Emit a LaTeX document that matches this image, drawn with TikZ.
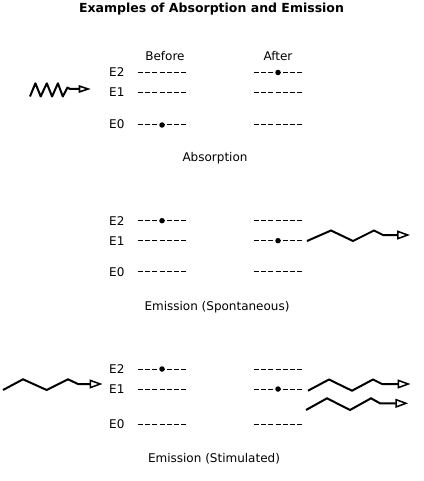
\documentclass[tikz,border=0pt]{standalone}
\usepackage{fontspec}
\setmainfont{DejaVu Sans}
\usetikzlibrary{arrows.meta}
\begin{document}
\begin{tikzpicture}[x=1pt,y=-1pt,
  lbl/.style={anchor=base, inner sep=0pt, font=\fontsize{12}{14}\selectfont},
  elbl/.style={lbl, anchor=base west},
  level/.style={line width=1pt, dash pattern=on 5pt off 2.2pt},
  electron/.style={circle, fill=black, inner sep=0pt, minimum size=5.5pt},
  photon/.style={line width=2pt, line join=miter, -{Triangle[open, length=13pt, width=9pt, line width=1.5pt]}},
  smallphoton/.style={line width=2pt, line join=round, -{Triangle[open, length=12pt, width=7.5pt, line width=1.6pt]}},
]
\useasboundingbox (0,0) rectangle (423,481);

% title
\node[anchor=base, inner sep=0pt, font=\bfseries\fontsize{12.5}{15}\selectfont] (title) at (211.5,13) {Examples of Absorption and Emission};

% ---------- Absorption ----------
\node[lbl] (before) at (165,61) {Before};
\node[lbl] (after) at (278,61) {After};
\node[elbl] (a2) at (109,77) {E2};
\node[elbl] (a1) at (109,97) {E1};
\node[elbl] (a0) at (109,129) {E0};
\draw[level] (138,72.5) -- (187,72.5);
\draw[level] (138,92.5) -- (187,92.5);
\draw[level] (138,125) -- (187,125);
\draw[level] (254,72.5) -- (303,72.5);
\draw[level] (254,92.5) -- (303,92.5);
\draw[level] (254,125) -- (303,125);
\node[electron] (ae0) at (162,125) {};
\node[electron] (ae2) at (278,72.5) {};
\node[lbl] (abs) at (215,161) {Absorption};
\draw[smallphoton] (30,96.5) -- (35.4,83.3) -- (40.7,96.5) -- (46.8,83.3) -- (52.1,96.5) -- (57.9,83.3) -- (62.8,96.5) -- (67.5,87.5) -- (70,89) -- (90.7,89);

% ---------- Spontaneous emission ----------
\node[elbl] (s2) at (109,225) {E2};
\node[elbl] (s1) at (109,245) {E1};
\node[elbl] (s0) at (109,276) {E0};
\draw[level] (138,220.7) -- (187,220.7);
\draw[level] (138,240.7) -- (187,240.7);
\draw[level] (138,271.7) -- (187,271.7);
\draw[level] (254,220.7) -- (303,220.7);
\draw[level] (254,240.7) -- (303,240.7);
\draw[level] (254,271.7) -- (303,271.7);
\node[electron] (se2) at (162,220.7) {};
\node[electron] (se1) at (278,240.7) {};
\node[lbl] (spont) at (217,310) {Emission (Spontaneous)};
\draw[photon] (307,241) -- (331,230.5) -- (353,241) -- (374,230.5) -- (383,235) -- (410,235);

% ---------- Stimulated emission ----------
\node[elbl] (t2) at (109,373) {E2};
\node[elbl] (t1) at (109,393) {E1};
\node[elbl] (t0) at (109,428) {E0};
\draw[level] (138,369) -- (187,369);
\draw[level] (138,389) -- (187,389);
\draw[level] (138,424) -- (187,424);
\draw[level] (254,369) -- (303,369);
\draw[level] (254,389) -- (303,389);
\draw[level] (254,424) -- (303,424);
\node[electron] (te2) at (162,369) {};
\node[electron] (te1) at (278,389) {};
\node[lbl] (stim) at (214,462.5) {Emission (Stimulated)};
\draw[photon] (3,390) -- (23,379.3) -- (46.7,390) -- (68,379.3) -- (78,384) -- (102.5,384);
\draw[photon] (308,390.7) -- (329,379.5) -- (352,390.7) -- (373,379.5) -- (382,384) -- (410.5,384);
\draw[photon] (306,410) -- (327,398.3) -- (350,410) -- (371,398.3) -- (380,403.3) -- (408.3,403.3);
\end{tikzpicture}
\end{document}
